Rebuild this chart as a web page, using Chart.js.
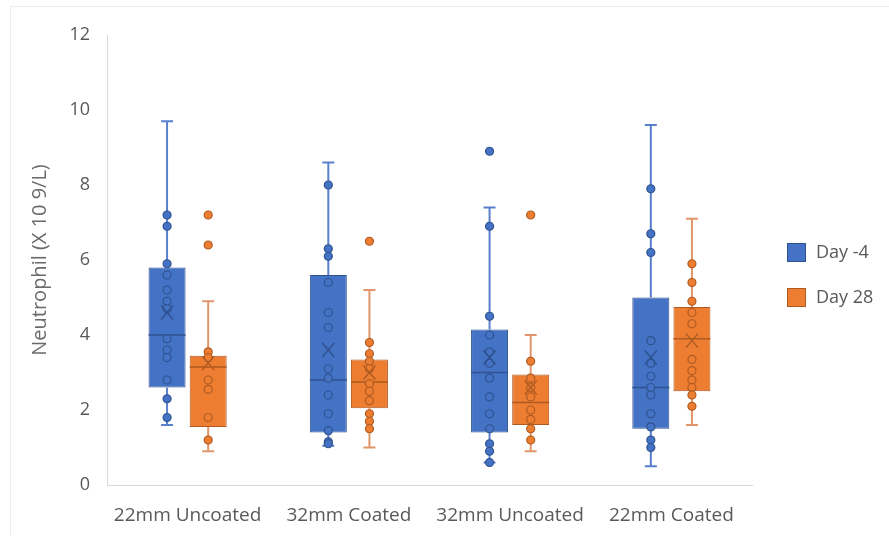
<!DOCTYPE html>
<html>
<head>
<meta charset="utf-8">
<script src="https://cdn.jsdelivr.net/npm/chart.js@4.4.1/dist/chart.umd.min.js"></script>
<style>
  html, body { margin: 0; padding: 0; background: #fff; }
  #wrap { width: 889px; height: 536px; }
</style>
</head>
<body>
<div id="wrap"><canvas id="box-chart" width="889" height="536"></canvas></div>
<script>
// categories
const categories = ['22mm Uncoated', '32mm Coated', '32mm Uncoated', '22mm Coated'];
const yTicks = [0, 2, 4, 6, 8, 10, 12];

// Day -4
const day4Q1 = [2.6, 1.4, 1.4, 1.5];
const day4Median = [4.0, 2.8, 3.0, 2.6];
const day4Q3 = [5.8, 5.6, 4.15, 5.0];
const day4Mean = [4.6, 3.6, 3.4, 3.4];
const day4Low = [1.6, 1.05, 0.6, 0.5];
const day4High = [9.7, 8.6, 7.4, 9.6];
const day4Points = [
    [7.2, 6.9, 5.9, 5.6, 5.2, 4.9, 4.7, 3.9, 3.6, 3.4, 2.8, 2.3, 1.8],
    [8.0, 6.3, 6.1, 5.4, 4.6, 4.2, 3.1, 2.85, 2.4, 1.9, 1.45, 1.15, 1.1],
    [8.9, 6.9, 4.5, 4.0, 3.55, 3.25, 2.85, 2.35, 1.9, 1.5, 1.1, 0.9, 0.6],
    [7.9, 6.7, 6.2, 3.85, 3.25, 2.9, 2.6, 2.4, 1.9, 1.55, 1.2, 1.0]
];

// Day 28
const day28Q1 = [1.55, 2.05, 1.6, 2.5];
const day28Median = [3.15, 2.75, 2.2, 3.9];
const day28Q3 = [3.45, 3.35, 2.95, 4.75];
const day28Mean = [3.25, 3.0, 2.6, 3.85];
const day28Low = [0.9, 1.0, 0.9, 1.6];
const day28High = [4.9, 5.2, 4.0, 7.1];
const day28Points = [
    [7.2, 6.4, 3.55, 3.4, 2.8, 2.55, 1.8, 1.2],
    [6.5, 3.8, 3.5, 3.3, 3.1, 2.7, 2.5, 2.25, 1.9, 1.7, 1.5],
    [7.2, 3.3, 2.85, 2.6, 2.35, 2.0, 1.75, 1.5, 1.2],
    [5.9, 5.4, 4.9, 4.6, 4.3, 3.35, 3.05, 2.8, 2.6, 2.4, 2.1]
];

const series = [
    { label: 'Day -4', q1: day4Q1, median: day4Median, q3: day4Q3, mean: day4Mean,
      low: day4Low, high: day4High, points: day4Points,
      fill: 'rgb(68, 114, 196)', dark: 'rgb(47, 82, 143)', whisker: 'rgb(88, 128, 204)' },
    { label: 'Day 28', q1: day28Q1, median: day28Median, q3: day28Q3, mean: day28Mean,
      low: day28Low, high: day28High, points: day28Points,
      fill: 'rgb(237, 125, 49)', dark: 'rgb(174, 90, 33)', whisker: 'rgb(224, 150, 105)' }
];

const textColor = '#595959';
const fontFamily = '"Open Sans", sans-serif';

// whiskers, medians, points, means and legend
const boxExtras = {
    id: 'boxExtras',
    beforeDraw(chart) {
        const ctx = chart.ctx;
        ctx.save();
        ctx.strokeStyle = '#ebebeb';
        ctx.lineWidth = 1;
        ctx.strokeRect(10.5, 6.5, 900, 600);
        ctx.restore();
    },
    afterDatasetsDraw(chart) {
        const ctx = chart.ctx;
        const y = chart.scales.y;
        series.forEach(function(s, i) {
            const meta = chart.getDatasetMeta(i);
            meta.data.forEach(function(bar, j) {
                const x = bar.x;
                const half = bar.width / 2;
                ctx.save();
                // whiskers
                ctx.strokeStyle = s.whisker;
                ctx.lineWidth = 2;
                ctx.beginPath();
                ctx.moveTo(x, y.getPixelForValue(s.q3[j]));
                ctx.lineTo(x, y.getPixelForValue(s.high[j]));
                ctx.moveTo(x, y.getPixelForValue(s.q1[j]));
                ctx.lineTo(x, y.getPixelForValue(s.low[j]));
                ctx.moveTo(x - 6, y.getPixelForValue(s.high[j]));
                ctx.lineTo(x + 6, y.getPixelForValue(s.high[j]));
                ctx.moveTo(x - 6, y.getPixelForValue(s.low[j]));
                ctx.lineTo(x + 6, y.getPixelForValue(s.low[j]));
                ctx.stroke();
                // median
                ctx.strokeStyle = s.dark;
                ctx.lineWidth = 1.5;
                ctx.beginPath();
                ctx.moveTo(x - half, y.getPixelForValue(s.median[j]));
                ctx.lineTo(x + half, y.getPixelForValue(s.median[j]));
                ctx.stroke();
                // points
                s.points[j].forEach(function(v) {
                    ctx.beginPath();
                    ctx.arc(x, y.getPixelForValue(v), 4, 0, Math.PI * 2);
                    ctx.fillStyle = s.fill;
                    ctx.fill();
                    ctx.lineWidth = 1.2;
                    ctx.strokeStyle = s.dark;
                    ctx.stroke();
                });
                // mean
                const my = y.getPixelForValue(s.mean[j]);
                ctx.strokeStyle = s.dark;
                ctx.lineWidth = 1.5;
                ctx.beginPath();
                ctx.moveTo(x - 6, my - 7);
                ctx.lineTo(x + 6, my + 7);
                ctx.moveTo(x + 6, my - 7);
                ctx.lineTo(x - 6, my + 7);
                ctx.stroke();
                ctx.restore();
            });
        });
    },
    afterDraw(chart) {
        const ctx = chart.ctx;
        ctx.save();
        ctx.font = '18px ' + fontFamily;
        ctx.textBaseline = 'middle';
        series.forEach(function(s, i) {
            const top = 243 + i * 45;
            ctx.fillStyle = s.fill;
            ctx.fillRect(787, top, 19, 19);
            ctx.strokeStyle = s.dark;
            ctx.lineWidth = 1;
            ctx.strokeRect(787.5, top + 0.5, 18, 18);
            ctx.fillStyle = textColor;
            ctx.fillText(s.label, 816, top + 10);
        });
        ctx.restore();
    }
};

new Chart(document.getElementById('box-chart'), {
    type: 'bar',
    data: {
        labels: categories,
        datasets: series.map(function(s) {
            return {
                label: s.label,
                data: s.q1.map(function(v, i) { return [v, s.q3[i]]; }),
                backgroundColor: s.fill,
                borderColor: s.dark,
                borderWidth: 1,
                borderSkipped: false,
                categoryPercentage: 0.51,
                barPercentage: 0.9
            };
        })
    },
    options: {
        responsive: false,
        animation: false,
        layout: { padding: { left: 0, top: 35, right: 137, bottom: 0 } },
        plugins: {
            legend: { display: false },
            tooltip: { enabled: false }
        },
        scales: {
            x: {
                grid: { display: false, drawTicks: false },
                border: { color: '#d9d9d9', width: 1 },
                ticks: { color: textColor, font: { family: fontFamily, size: 19 }, padding: 19, maxRotation: 0 },
                afterFit: function(scale) { scale.height = 51; }
            },
            y: {
                min: 0,
                max: 12,
                afterBuildTicks: function(scale) {
                    scale.ticks = yTicks.map(function(v) { return { value: v }; });
                },
                grid: { display: false, drawTicks: false },
                border: { color: '#d9d9d9', width: 1 },
                ticks: { color: textColor, font: { family: fontFamily, size: 18 }, padding: 17 },
                title: {
                    display: true,
                    text: 'Neutrophil (X 10 9/L)',
                    color: '#6a6a6a',
                    font: { family: fontFamily, size: 20 },
                    padding: { top: 28, bottom: 0 }
                },
                afterFit: function(scale) { scale.width = 107; }
            }
        }
    },
    plugins: [boxExtras]
});
</script>
</body>
</html>
